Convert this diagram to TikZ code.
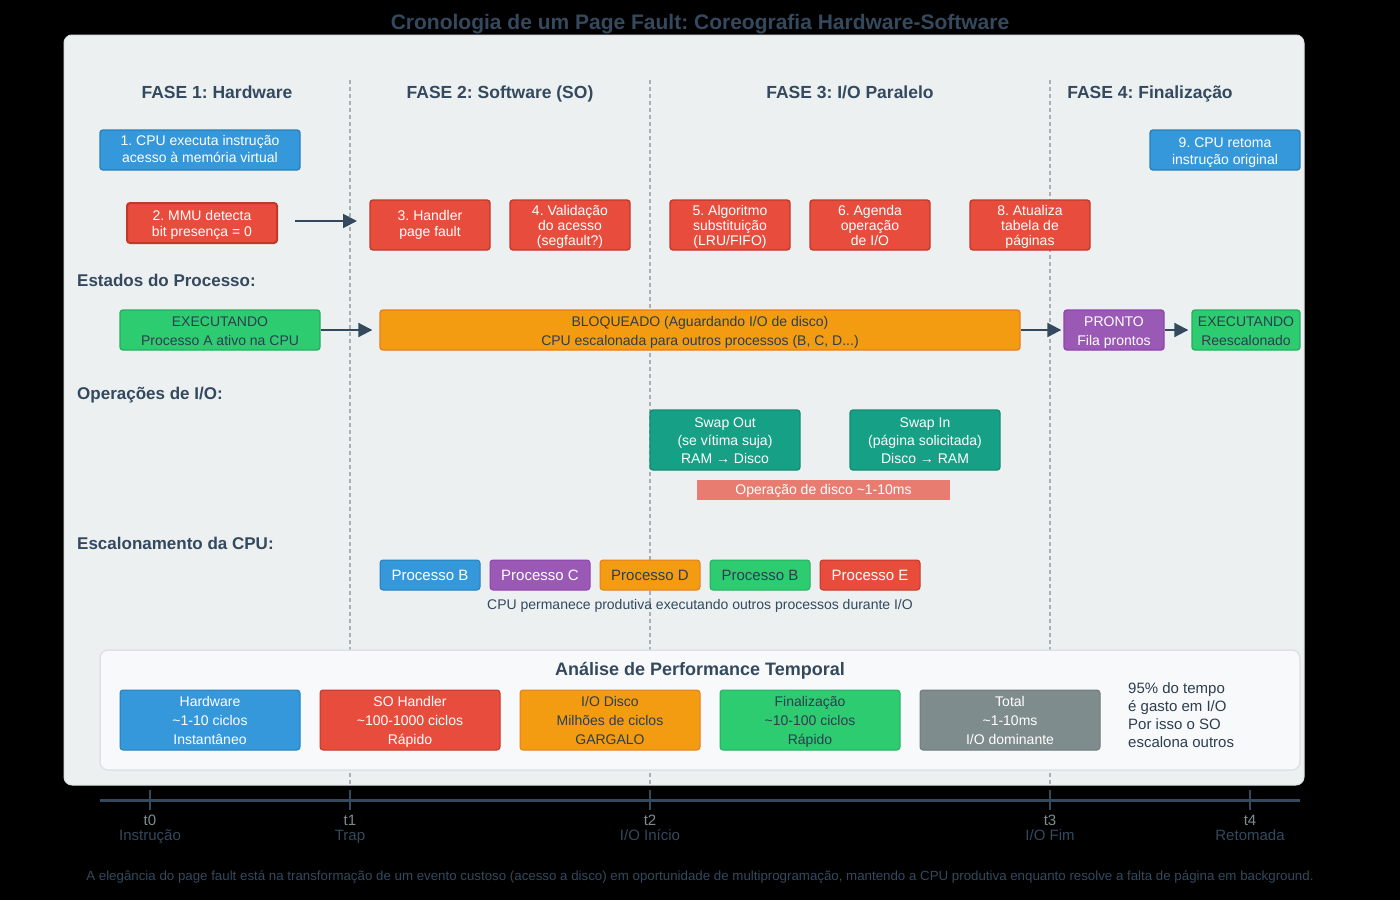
\documentclass[tikz,border=0pt]{standalone}
\usepackage{fontspec}
\setmainfont{Liberation Sans}
\frenchspacing
\usetikzlibrary{arrows.meta}
\definecolor{cblue}{HTML}{3498DB}\definecolor{cblueb}{HTML}{2980B9}
\definecolor{cred}{HTML}{E74C3C}\definecolor{credb}{HTML}{C0392B}
\definecolor{cgreen}{HTML}{2ECC71}\definecolor{cgreenb}{HTML}{27AE60}
\definecolor{corange}{HTML}{F39C12}\definecolor{corangeb}{HTML}{E67E22}
\definecolor{cpurple}{HTML}{9B59B6}\definecolor{cpurpleb}{HTML}{8E44AD}
\definecolor{cteal}{HTML}{16A085}\definecolor{ctealb}{HTML}{138D75}
\definecolor{cgray}{HTML}{7F8C8D}\definecolor{cgrayb}{HTML}{707B7C}
\definecolor{cdark}{HTML}{2C3E50}\definecolor{cslate}{HTML}{34495E}
\definecolor{cpanel}{HTML}{ECF0F1}\definecolor{cpanelb}{HTML}{DCE2E4}
\definecolor{cperf}{HTML}{F8F9FA}\definecolor{cperfb}{HTML}{DEE2E6}
\definecolor{cdash}{HTML}{A5B1B3}
% invisible struts so every line box has the same height and depth
\newcommand\linestrut{\vrule width 0pt height 0.9em depth 0.2em\relax}
% taller first line: sets multi-line text a little lower in its box
\newcommand\tl{\vrule width 0pt height 1.04em depth 0pt\relax}
\tikzset{
  even/.style={execute at begin node={\linestrut}, execute at end node={\linestrut}},
  box/.style={draw, rounded corners=3pt, line width=1.4pt, align=center, inner sep=0pt,
    text=white, font=\fontsize{14}{15}\selectfont, even},
  bluebox/.style={box, fill=cblue, draw=cblueb},
  redbox/.style={box, fill=cred, draw=credb},
  greenbox/.style={box, fill=cgreen, draw=cgreenb, text=cdark},
  orangebox/.style={box, fill=corange, draw=corangeb, text=cdark},
  purplebox/.style={box, fill=cpurple, draw=cpurpleb},
  tealbox/.style={box, fill=cteal, draw=ctealb, font=\fontsize{14}{18}\selectfont},
  graybox/.style={box, fill=cgray, draw=cgrayb},
  procbox/.style={minimum width=100pt, minimum height=30pt, line width=1pt, font=\fontsize{15}{17}\selectfont},
  perfbox/.style={minimum width=180pt, minimum height=60pt, line width=1pt, font=\fontsize{14}{19}\selectfont},
  phase/.style={font=\fontsize{17.5}{20}\selectfont\bfseries, text=cslate, even},
  section/.style={font=\fontsize{17}{20}\selectfont\bfseries, text=cslate, anchor=west, inner sep=0pt, even},
  flow/.style={draw=cslate, line width=2pt, -{Triangle[length=14pt,width=14pt]}},
  divider/.style={draw=cdash, line width=1.2pt, dash pattern=on 4pt off 3pt},
  tick/.style={draw=cslate, line width=1.2pt},
  tlabel/.style={align=center, font=\fontsize{15}{15}\selectfont, inner sep=0pt, even},
}
\begin{document}
\begin{tikzpicture}[x=1pt, y=-1pt]
% canvas
\fill[black] (0,0) rectangle (1400,900);
\useasboundingbox (0,0) rectangle (1400,900);

% title
\node[font=\fontsize{21}{24}\selectfont\bfseries, text=cslate, even] (title) at (700,22)
  {Cronologia de um Page Fault: Coreografia Hardware-Software};

% main panel
\draw[fill=cpanel, draw=cpanelb, line width=1pt, rounded corners=8pt] (64,35) rectangle (1304,785);

% phase dividers
\coordinate (d1a) at (350,80);  \coordinate (d1b) at (350,785);
\coordinate (d2a) at (650,80);  \coordinate (d2b) at (650,785);
\coordinate (d3a) at (1050,80); \coordinate (d3b) at (1050,785);
\draw[divider] (d1a) -- (d1b);
\draw[divider] (d2a) -- (d2b);
\draw[divider] (d3a) -- (d3b);

% phase headers
\node[phase] (f1) at (217,92) {FASE 1: Hardware};
\node[phase] (f2) at (500,92) {FASE 2: Software (SO)};
\node[phase] (f3) at (850,92) {FASE 3: I/O Paralelo};
\node[phase] (f4) at (1150,92) {FASE 4: Finalização};

% steps
\node[bluebox, minimum width=200pt, minimum height=40pt, font=\fontsize{14}{17}\selectfont] (s1) at (200,150)
  {1. CPU executa instrução\\acesso à memória virtual};
\node[redbox, minimum width=150pt, minimum height=40pt, line width=2pt, font=\fontsize{14}{16}\selectfont] (s2) at (202,223)
  {\tl 2. MMU detecta\\bit presença = 0};
\node[redbox, minimum width=120pt, minimum height=50pt, font=\fontsize{14}{16}\selectfont] (s3) at (430,225)
  {3. Handler\\page fault};
\node[redbox, minimum width=120pt, minimum height=50pt] (s4) at (570,225)
  {\tl 4. Validação\\do acesso\\(segfault?)};
\node[redbox, minimum width=120pt, minimum height=50pt] (s5) at (730,225)
  {\tl 5. Algoritmo\\substituição\\(LRU/FIFO)};
\node[redbox, minimum width=120pt, minimum height=50pt] (s6) at (870,225)
  {\tl 6. Agenda\\operação\\de I/O};
\node[redbox, minimum width=120pt, minimum height=50pt] (s8) at (1030,225)
  {\tl 8. Atualiza\\tabela de\\páginas};
\node[bluebox, minimum width=150pt, minimum height=40pt, font=\fontsize{14}{17}\selectfont] (s9) at (1225,150)
  {\tl 9. CPU retoma\\instrução original};
\coordinate (s2out) at (295,221);
\coordinate (s3in) at (357,221);
\draw[flow] (s2out) -- (s3in);

% process states
\node[section] (lbl1) at (77,281) {Estados do Processo:};
\node[greenbox, minimum width=200pt, minimum height=40pt, font=\fontsize{14}{19}\selectfont] (e1) at (220,330)
  {\tl EXECUTANDO\\Processo A ativo na CPU};
\node[orangebox, minimum width=640pt, minimum height=40pt, font=\fontsize{14}{19}\selectfont] (bl) at (700,330)
  {\tl BLOQUEADO (Aguardando I/O de disco)\\CPU escalonada para outros processos (B, C, D...)};
\node[purplebox, minimum width=100pt, minimum height=40pt, font=\fontsize{14}{19}\selectfont] (pr) at (1114,330)
  {\tl PRONTO\\Fila prontos};
\node[greenbox, minimum width=108pt, minimum height=40pt, font=\fontsize{14}{19}\selectfont] (e2) at (1246,330)
  {\tl EXECUTANDO\\Reescalonado};
\draw[flow] (e1.east) -- ([xshift=-7pt]bl.west);
\draw[flow] (bl.east) -- ([xshift=-2pt]pr.west);
\draw[flow] (pr.east) -- ([xshift=-3pt]e2.west);

% I/O operations
\node[section] (lbl2) at (77,394) {Operações de I/O:};
\node[tealbox, minimum width=150pt, minimum height=60pt] (so) at (725,440)
  {\tl Swap Out\\(se vítima suja)\\RAM → Disco};
\node[tealbox, minimum width=150pt, minimum height=60pt] (si) at (925,440)
  {\tl Swap In\\(página solicitada)\\Disco → RAM};
\node[fill=cred, fill opacity=0.7, text opacity=1, text=white, minimum width=253pt, minimum height=20pt,
  inner sep=0pt, font=\fontsize{14}{16}\selectfont, even] (disk) at (823.5,490) {Operação de disco \textasciitilde1-10ms};

% CPU scheduling
\node[section] (lbl3) at (77,544) {Escalonamento da CPU:};
\node[bluebox, procbox] (pb) at (430,575) {Processo B};
\node[purplebox, procbox] (pc) at (540,575) {Processo C};
\node[orangebox, procbox] (pd) at (650,575) {Processo D};
\node[greenbox, procbox] (pb2) at (760,575) {Processo B};
\node[redbox, procbox] (pe) at (870,575) {Processo E};
\node[text=cslate, font=\fontsize{14}{16}\selectfont, even] (prodnote) at (700,605)
  {CPU permanece produtiva executando outros processos durante I/O};

% performance analysis
\draw[fill=cperf, draw=cperfb, line width=1.5pt, rounded corners=8pt] (100,650) rectangle (1300,770);
\node[font=\fontsize{18}{20}\selectfont\bfseries, text=cslate, even] (perft) at (700,669) {Análise de Performance Temporal};
\node[bluebox, perfbox] (p1) at (210,720) {\tl Hardware\\\textasciitilde1-10 ciclos\\Instantâneo};
\node[redbox, perfbox] (p2) at (410,720) {\tl SO Handler\\\textasciitilde100-1000 ciclos\\Rápido};
\node[orangebox, perfbox] (p3) at (610,720) {\tl I/O Disco\\Milhões de ciclos\\GARGALO};
\node[greenbox, perfbox] (p4) at (810,720) {\tl Finalização\\\textasciitilde10-100 ciclos\\Rápido};
\node[graybox, perfbox] (p5) at (1010,720) {\tl Total\\\textasciitilde1-10ms\\I/O dominante};
\node[anchor=north west, align=left, text=cdark, inner sep=0pt, font=\fontsize{15}{18}\selectfont] (pnote) at (1128,682)
  {95\% do tempo\\é gasto em I/O\\Por isso o SO\\escalona outros};

% timeline
\coordinate (tla) at (100,800); \coordinate (tlb) at (1300,800);
\draw[draw=cslate, line width=3pt] (tla) -- (tlb);
\foreach \x/\n/\lab [count=\i from 0] in {150/t0/{Instrução}, 350/t1/{Trap}, 650/t2/{I/O Início}, 1050/t3/{I/O Fim}, 1250/t4/{Retomada}}{
  \coordinate (tk\i a) at (\x,790); \coordinate (tk\i b) at (\x,810);
  \draw[tick] (tk\i a) -- (tk\i b);
  \node[tlabel, text=cgray] (tt\i) at (\x,820) {\n};
  \node[tlabel, text=cslate] (tl\i) at (\x,835) {\lab};
}

% closing remark
\node[text=cslate, font=\fontsize{13.3}{15}\selectfont, even] (foot) at (700,876)
  {A elegância do page fault está na transformação de um evento custoso (acesso a disco) em oportunidade de multiprogramação, mantendo a CPU produtiva enquanto resolve a falta de página em background.};
\end{tikzpicture}
\end{document}
